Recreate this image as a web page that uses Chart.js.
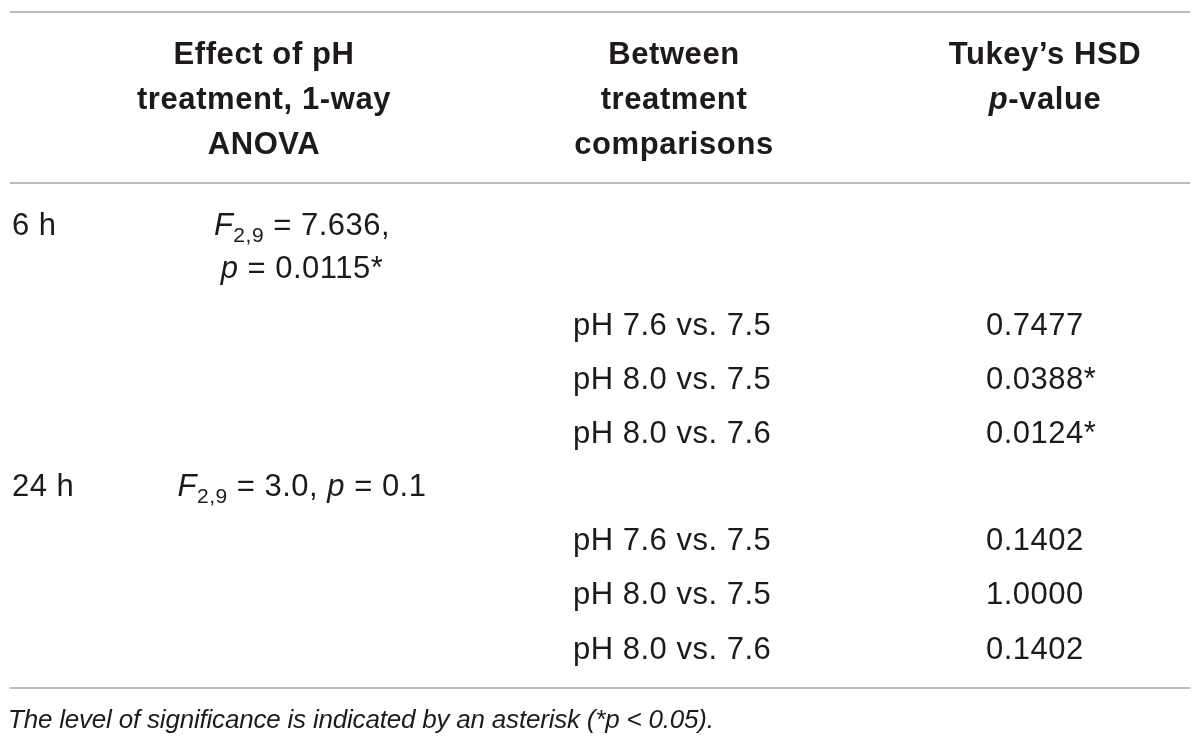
<!DOCTYPE html>
<html>
<head>
<meta charset="utf-8">
<script src="https://cdn.jsdelivr.net/npm/chart.js@4/dist/chart.umd.min.js"></script>
<style>
  html, body { margin: 0; padding: 0; background: #ffffff; }
  #wrap { width: 1200px; height: 751px; }
</style>
</head>
<body>
<div id="wrap"><canvas id="c" width="1200" height="751"></canvas></div>
<script>
// ---- Table content ----
const HEADER_ANOVA = ['Effect of pH', 'treatment, 1-way', 'ANOVA'];
const HEADER_COMPARISON = ['Between', 'treatment', 'comparisons'];
const HEADER_TUKEY = ['Tukey\u2019s HSD', '<i>p</i>-value'];
const TIME_POINTS = ['6 h', '24 h'];
const ANOVA_6H = ['<i>F</i><sub>2,9</sub> = 7.636,', '<i>p</i> = 0.0115*'];
const ANOVA_24H = ['<i>F</i><sub>2,9</sub> = 3.0, <i>p</i> = 0.1'];
const COMPARISONS = ['pH 7.6 vs. 7.5', 'pH 8.0 vs. 7.5', 'pH 8.0 vs. 7.6'];
const P_VALUES_6H = ['0.7477', '0.0388*', '0.0124*'];
const P_VALUES_24H = ['0.1402', '1.0000', '0.1402'];
const FOOTNOTE = 'The level of significance is indicated by an asterisk (*<i>p</i> &lt; 0.05).';

const TEXT_COLOR = '#1e1a1b';
const RULE_COLOR = '#bcbcbc';
const FAMILY = '"Liberation Sans", Arial, Helvetica, sans-serif';

function parseMarkup(s) {
  const parts = s.split(/(<i>.*?<\/i>|<sub>.*?<\/sub>)/).filter(p => p.length);
  return parts.map(p => {
    const dec = t => t.replace(/&lt;/g, '<').replace(/&gt;/g, '>');
    if (p.startsWith('<i>')) return { text: dec(p.slice(3, -4)), italic: true, sub: false };
    if (p.startsWith('<sub>')) return { text: dec(p.slice(5, -6)), italic: false, sub: true };
    return { text: dec(p), italic: false, sub: false };
  });
}

function segFont(seg, base) {
  const size = seg.sub ? Math.round(base.size * 0.68) : base.size;
  const ital = (seg.italic || base.italic) ? 'italic ' : '';
  return ital + (base.bold ? 'bold ' : '') + size + 'px ' + FAMILY;
}

function drawRich(ctx, markup, x, y, align, base) {
  const segs = parseMarkup(markup);
  ctx.save();
  ctx.fillStyle = TEXT_COLOR;
  ctx.textBaseline = 'alphabetic';
  ctx.textAlign = 'left';
  const spacing = base.spacing || 0;
  try { ctx.letterSpacing = spacing + 'px'; } catch (e) {}
  let total = 0;
  const widths = segs.map(seg => {
    ctx.font = segFont(seg, base);
    const w = ctx.measureText(seg.text).width;
    total += w;
    return w;
  });
  let cx = align === 'center' ? x - total / 2 : x;
  segs.forEach((seg, i) => {
    ctx.font = segFont(seg, base);
    ctx.fillText(seg.text, cx, seg.sub ? y + Math.round(base.size * 0.24) : y);
    cx += widths[i];
  });
  ctx.restore();
}

const tablePlugin = {
  id: 'tableDraw',
  afterDraw(chart) {
    const ctx = chart.ctx;
    const xs = chart.scales.x, ys = chart.scales.y;
    const X = v => xs.getPixelForValue(v);
    const Y = v => ys.getPixelForValue(v);

    // horizontal rules
    ctx.save();
    ctx.strokeStyle = RULE_COLOR;
    ctx.lineWidth = 2;
    [12, 183, 688].forEach(yv => {
      ctx.beginPath();
      ctx.moveTo(X(10), Y(yv));
      ctx.lineTo(X(1190), Y(yv));
      ctx.stroke();
    });
    ctx.restore();

    const head = { size: 31, bold: true, spacing: 0.6 };
    const body = { size: 31, bold: false, spacing: 0.5 };
    const headBase = [64, 109, 154];

    HEADER_ANOVA.forEach((t, i) => drawRich(ctx, t, X(264), Y(headBase[i]), 'center', head));
    HEADER_COMPARISON.forEach((t, i) => drawRich(ctx, t, X(674), Y(headBase[i]), 'center', head));
    HEADER_TUKEY.forEach((t, i) => drawRich(ctx, t, X(1045), Y(headBase[i]), 'center', head));

    // 6 h block
    drawRich(ctx, TIME_POINTS[0], X(12), Y(235), 'left', body);
    const anova6Base = [235, 278];
    ANOVA_6H.forEach((t, i) => drawRich(ctx, t, X(302), Y(anova6Base[i]), 'center', body));
    const rows6 = [335, 389, 443];
    COMPARISONS.forEach((t, i) => {
      drawRich(ctx, t, X(573), Y(rows6[i]), 'left', body);
      drawRich(ctx, P_VALUES_6H[i], X(986), Y(rows6[i]), 'left', body);
    });

    // 24 h block
    drawRich(ctx, TIME_POINTS[1], X(12), Y(496), 'left', body);
    ANOVA_24H.forEach(t => drawRich(ctx, t, X(302), Y(496), 'center', body));
    const rows24 = [550, 604, 659];
    COMPARISONS.forEach((t, i) => {
      drawRich(ctx, t, X(573), Y(rows24[i]), 'left', body);
      drawRich(ctx, P_VALUES_24H[i], X(986), Y(rows24[i]), 'left', body);
    });

    // footnote
    drawRich(ctx, FOOTNOTE, X(8), Y(728), 'left', { size: 26, bold: false, italic: true, spacing: -0.2 });
  }
};

new Chart(document.getElementById('c'), {
  type: 'scatter',
  data: { datasets: [{ data: [], pointRadius: 0 }] },
  options: {
    responsive: false,
    animation: false,
    devicePixelRatio: 1,
    layout: { padding: 0 },
    plugins: { legend: { display: false }, tooltip: { enabled: false } },
    scales: {
      x: { type: 'linear', min: 0, max: 1200, display: false },
      y: { type: 'linear', min: 0, max: 751, reverse: true, display: false }
    }
  },
  plugins: [tablePlugin]
});
</script>
</body>
</html>
